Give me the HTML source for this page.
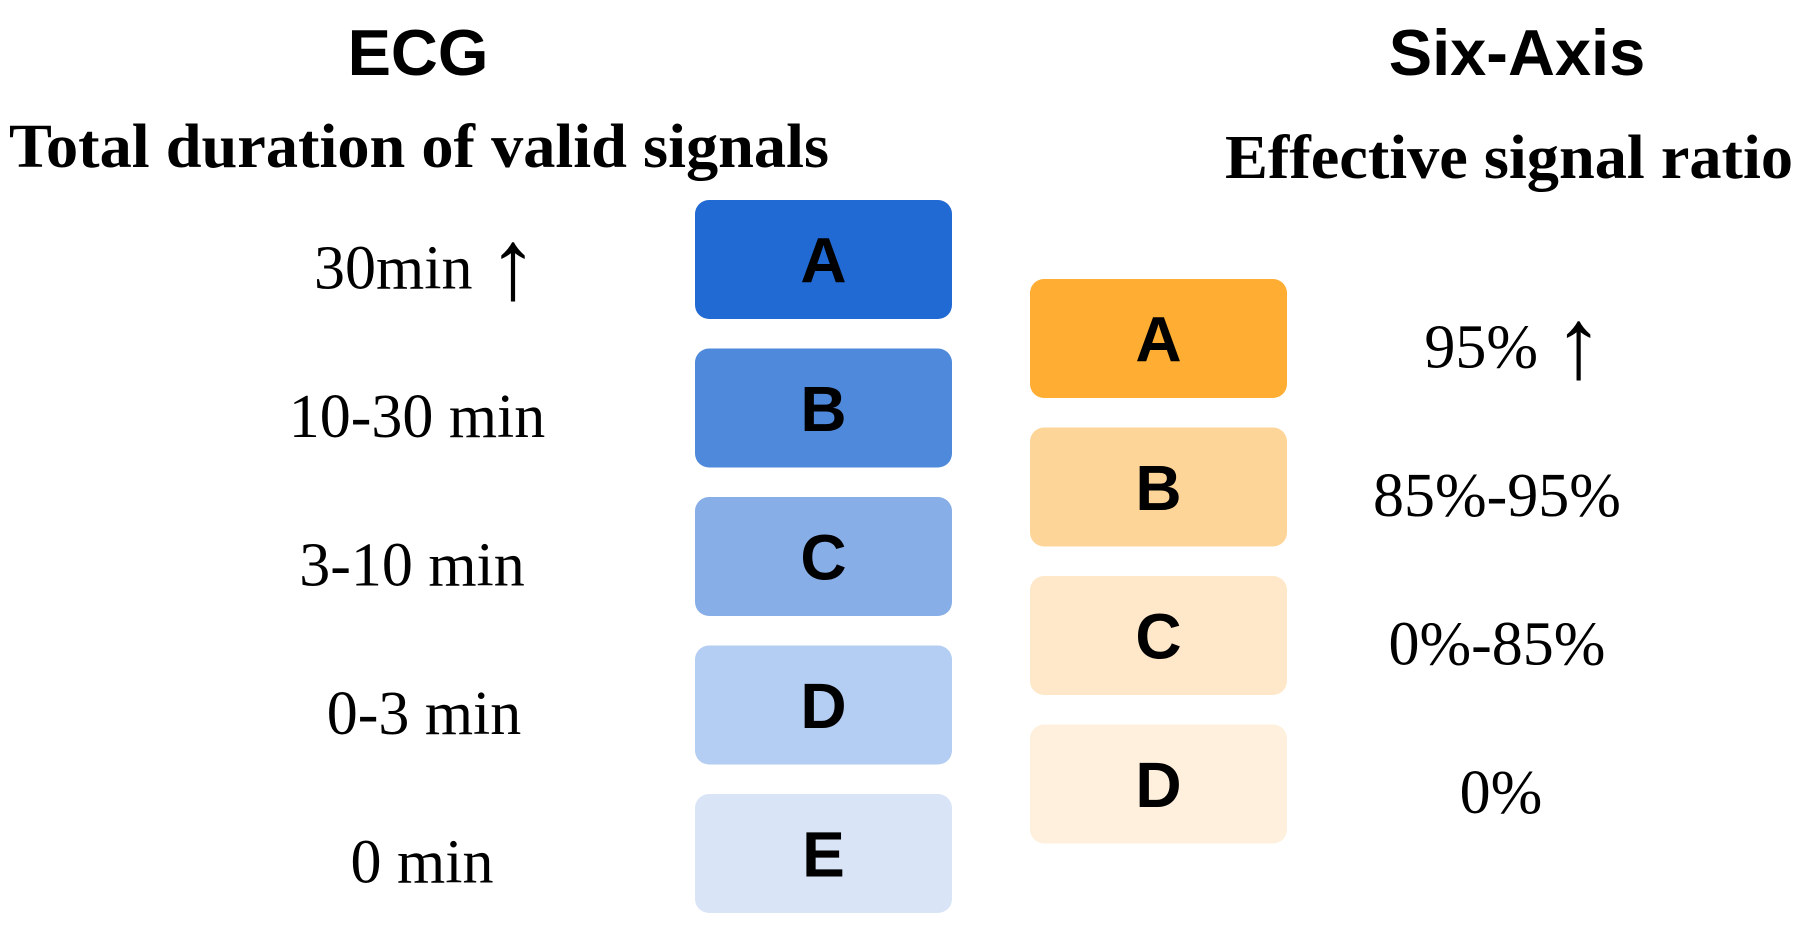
<!DOCTYPE html>
<html><head><meta charset="utf-8"><style>
html,body{margin:0;padding:0;background:#fff;}
svg{display:block}
</style></head><body>
<svg id="chart" width="1810" height="934" viewBox="0 0 1810 934">
<text x="418" y="75" text-anchor="middle" font-family="Liberation Sans, sans-serif" font-weight="bold" font-size="65">ECG</text>
<text x="9" y="167" textLength="820" lengthAdjust="spacingAndGlyphs" font-family="Liberation Serif, serif" font-weight="bold" font-size="62">Total duration of valid signals</text>
<text x="1517" y="75" text-anchor="middle" font-family="Liberation Sans, sans-serif" font-weight="bold" font-size="65">Six-Axis</text>
<text x="1225" y="178" textLength="568" lengthAdjust="spacingAndGlyphs" font-family="Liberation Serif, serif" font-weight="bold" font-size="62">Effective signal ratio</text>
<g id="ecg"></g>
<g id="six"></g>
</svg>
<script>
const ecgGrades = ["A","B","C","D","E"];
const ecgRanges = ["30min \u2191","10-30 min","3-10 min","0-3 min","0 min"];
const ecgColors = ["#216AD3","#4F89DB","#88AEE7","#B4CDF2","#D9E5F7"];
const sixGrades = ["A","B","C","D"];
const sixRanges = ["95% \u2191","85%-95%","0%-85%","0%"];
const sixColors = ["#FFAD33","#FDD598","#FEE8C9","#FEF0DC"];
const NS = "http://www.w3.org/2000/svg";
function mk(tag, attrs, parent){
  const e = document.createElementNS(NS, tag);
  for (const k in attrs) e.setAttribute(k, attrs[k]);
  parent.appendChild(e);
  return e;
}
function setLabel(el, str){
  const idx = str.indexOf('\u2191');
  if (idx < 0) { el.textContent = str; return; }
  el.appendChild(document.createTextNode(str.slice(0, idx)));
  const a = mk('tspan', {'font-size': 100, dy: 10}, el);
  a.textContent = '\u2191';
}
function draw(groupId, grades, ranges, colors, boxX, top0, labelX, prefix){
  const g = document.getElementById(groupId);
  const step = 148.5, h = 119, w = 257;
  grades.forEach((gr, i) => {
    const y = top0 + i * step;
    const r = mk('rect', {x: boxX, y: y, width: w, height: h, rx: 14, fill: colors[i]}, g);
    
    
    const t = mk('text', {x: boxX + w/2, y: y + h/2 + 23, 'text-anchor': 'middle', 'font-family': 'Liberation Sans, sans-serif', 'font-weight': 'bold', 'font-size': 64}, g);
    t.textContent = gr;
    
    
    const l = mk('text', {x: labelX[i], y: y + h/2 + 29, 'text-anchor': 'middle', 'font-family': 'Liberation Serif, DejaVu Serif, serif', 'font-size': 62}, g);
    setLabel(l, ranges[i]);
    
    
  });
}
draw('ecg', ecgGrades, ecgRanges, ecgColors, 695, 200, [426,417,412,424,422], 'ecg');
draw('six', sixGrades, sixRanges, sixColors, 1030, 279, [1514,1497,1497,1501], 'six-axis');
</script>
</body></html>
